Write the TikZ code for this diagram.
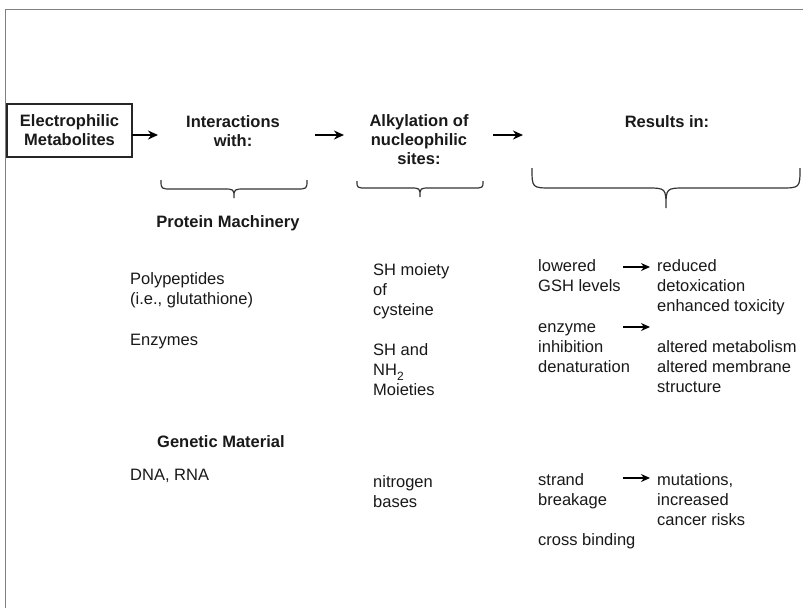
\documentclass[tikz,border=0pt]{standalone}
\usepackage{fontspec}
\setmainfont{Liberation Sans}
\usetikzlibrary{arrows.meta}
\newcommand\mybrace[6]{% x1, x2, yend, ymid, ytip, r
  \draw[brc] (#1,#3) .. controls (#1,#4) .. ({#1+#6},#4)
    -- ({(#1+#2)/2-#6},#4) .. controls ({(#1+#2)/2},#4) .. ({(#1+#2)/2},#5)
    .. controls ({(#1+#2)/2},#4) .. ({(#1+#2)/2+#6},#4)
    -- ({#2-#6},#4) .. controls (#2,#4) .. (#2,#3);}
\newcommand\mysubtwo{\raisebox{-5pt}{\fontsize{12}{12}\selectfont 2}}
\begin{document}
\begin{tikzpicture}[x=1pt,y=-1pt,
  every node/.style={inner sep=0pt, text=black!90, font=\fontsize{16.5}{20}\selectfont},
  txt/.style={anchor=base west, align=left},
  hdr/.style={anchor=base, align=center, font=\fontsize{16.5}{19}\selectfont\bfseries},
  sub/.style={anchor=base, font=\fontsize{16.5}{20}\selectfont\bfseries},
  arr/.style={-{Stealth[length=10pt,width=9pt]}, line width=1.6pt, black},
  sarr/.style={-{Stealth[length=9pt,width=8pt]}, line width=1.3pt, black},
  brc/.style={line width=1.2pt, black!80},
  frame/.style={line width=1pt, black!50},
]
\useasboundingbox (0,0) rectangle (803,608);
\fill[white] (0,0) rectangle (803,608);
\draw[frame] (5,608) -- (5,9) -- (803,9);

% header row (base anchor = baseline of the last line)
\node[draw, line width=1.2pt, black!85, text=black!90, minimum width=125pt, minimum height=53pt,
      align=center, font=\fontsize{16.5}{19}\selectfont\bfseries] (em) at (69.5,130.5)
      {Electrophilic\\Metabolites};
\node[hdr] (int) at (233,146) {Interactions\\with:};
\node[hdr] (alk) at (419,164) {Alkylation of\\nucleophilic\\sites:};
\node[hdr] (res) at (667,127) {Results in:};

\coordinate (a1s) at (132,135); \coordinate (a1e) at (158,135);
\coordinate (a2s) at (315,135); \coordinate (a2e) at (344,135);
\coordinate (a3s) at (493,135); \coordinate (a3e) at (523,135);
\draw[arr] (a1s) -- (a1e);
\draw[arr] (a2s) -- (a2e);
\draw[arr] (a3s) -- (a3e);

% braces
\mybrace{161}{307}{180}{189}{198}{11}
\mybrace{357}{483}{181}{188}{197}{10}
\mybrace{532}{800}{168}{188}{208}{20}

% protein machinery
\node[sub] (prot) at (228,227) {Protein Machinery};
\node[txt] (poly) at (130,304) {Polypeptides\\(i.e., glutathione)};
\node[txt] (enz) at (130,345) {Enzymes};
\node[txt] (shm) at (373,315) {SH moiety\\of\\cysteine};
\node[txt] (shn) at (373,395) {SH and\\NH\mysubtwo\\Moieties};

\node[txt] (low) at (538,291) {lowered\\GSH levels};
\node[txt] (red) at (657,311) {reduced\\detoxication\\enhanced toxicity};
\node[txt] (inh) at (538,372) {enzyme\\inhibition\\denaturation};
\node[txt] (alt) at (657,392) {altered metabolism\\altered membrane\\structure};
\coordinate (b1s) at (623,267); \coordinate (b1e) at (650,267);
\coordinate (b2s) at (623,327); \coordinate (b2e) at (650,327);
\draw[sarr] (b1s) -- (b1e);
\draw[sarr] (b2s) -- (b2e);

% genetic material
\node[anchor=base west, font=\fontsize{16.5}{20}\selectfont\bfseries] (gen) at (157,447) {Genetic Material};
\node[txt] (dna) at (130,480) {DNA, RNA};
\node[txt] (nit) at (373,507) {nitrogen\\bases};
\node[txt] (str) at (538,505) {strand\\breakage};
\node[txt] (mut) at (657,525) {mutations,\\increased\\cancer risks};
\node[txt] (cro) at (538,545) {cross binding};
\coordinate (b3s) at (623,478); \coordinate (b3e) at (650,478);
\draw[sarr] (b3s) -- (b3e);
\end{tikzpicture}
\end{document}
